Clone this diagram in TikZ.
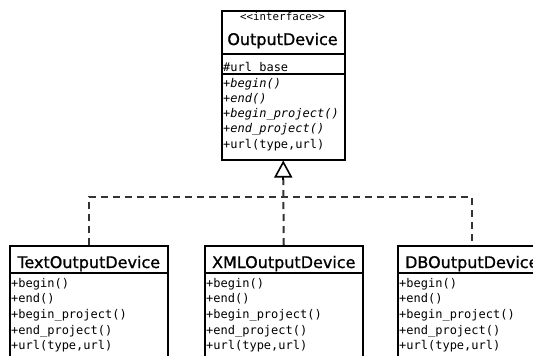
\documentclass[tikz,border=0pt]{standalone}
\usepackage{fontspec}
\usepackage{tikz}
\usetikzlibrary{arrows.meta,calc}

\newfontfamily\memberfont{DejaVu Sans Mono}
\newfontfamily\namefont[FakeBold=1]{DejaVu Sans}

\tikzset{
  classbox/.style={draw, line width=1.5pt, fill=white, anchor=north west, inner sep=0pt},
  sepline/.style={line width=1.5pt},
  member/.style={anchor=base west, inner sep=0pt, font=\memberfont\fontsize{12}{14}\selectfont},
  abstract/.style={member, font=\memberfont\itshape\fontsize{12}{14}\selectfont},
  classname/.style={anchor=base, inner sep=0pt, font=\namefont\fontsize{16}{18}\selectfont},
  stereotype/.style={anchor=base, inner sep=0pt, font=\memberfont\fontsize{10.8}{12}\selectfont},
  realize/.style={line width=2pt, color=black!80, dash pattern=on 7pt off 5pt},
}

\begin{document}
\begin{tikzpicture}[x=1pt,y=-1pt]
\useasboundingbox (0,0) rectangle (533,356);
\clip (0,0) rectangle (533,356);

% interface
\node[classbox, minimum width=123pt, minimum height=149pt] (dev) at (221,10) {};
\draw[sepline] (221,54) -- (344,54);
\draw[sepline] (221,74) -- (344,74);
\node[stereotype] (dev-st) at (282.5,20) {<<interface>>};
\node[classname] (dev-name) at (282.5,45) {OutputDevice};
\node[member] (dev-a1) at (223,71) {\#url\_base};
\node[abstract] (dev-m1) at (223,87) {+begin()};
\node[abstract] (dev-m2) at (223,102.3) {+end()};
\node[abstract] (dev-m3) at (223,117.6) {+begin\_project()};
\node[abstract] (dev-m4) at (223,132.9) {+end\_project()};
\node[member] (dev-m5) at (223,148.2) {+url(type,url)};

% implementations
\foreach \cls/\name/\x/\w in {txt/TextOutputDevice/9/158, xml/XMLOutputDevice/204/158, db/DBOutputDevice/397/148} {
  \node[classbox, minimum width=\w pt, minimum height=130pt] (\cls) at (\x,245) {};
  \draw[sepline] (\x,273) -- ++(\w,0);
  \node[classname] (\cls-name) at (\cls.north |- 0,268) {\name};
  \node[member] (\cls-m1) at (\x+2,287) {+begin()};
  \node[member] (\cls-m2) at (\x+2,302.7) {+end()};
  \node[member] (\cls-m3) at (\x+2,318.4) {+begin\_project()};
  \node[member] (\cls-m4) at (\x+2,334.1) {+end\_project()};
  \node[member] (\cls-m5) at (\x+2,349.8) {+url(type,url)};
}

% realization arrows
\coordinate (gen) at ($(dev.south)+(0,19)$);
\coordinate (bus) at (282.5,197);
\draw[realize] (xml.north) -- (gen);
\draw[realize] (txt.north) |- (bus) -| (db.north);
\draw[line width=1.6pt, -{Triangle[open, length=17pt, width=18pt]}] (gen) -- (dev.south);
\end{tikzpicture}
\end{document}
